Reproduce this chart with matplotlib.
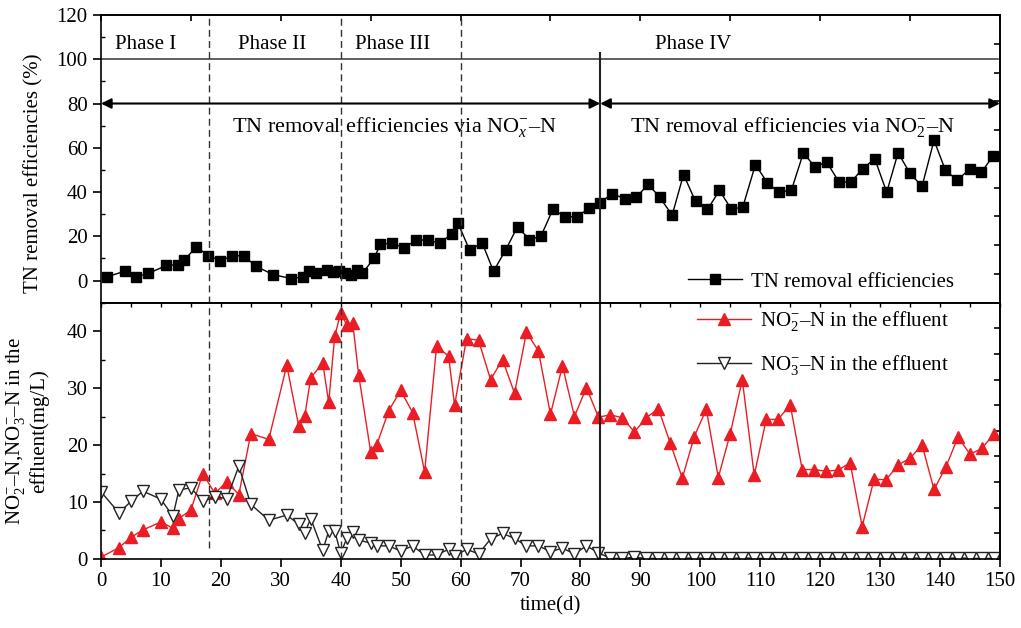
import matplotlib
matplotlib.use('Agg')
import matplotlib.pyplot as plt
import numpy as np

# 글꼴 설정 (Times 계열)
plt.rcParams['font.family'] = ['Liberation Serif', 'DejaVu Serif']
plt.rcParams['mathtext.fontset'] = 'custom'
plt.rcParams['mathtext.rm'] = 'Liberation Serif'
plt.rcParams['mathtext.it'] = 'Liberation Serif:italic'
plt.rcParams['font.size'] = 15

# ---- 데이터 ----
# TN 제거효율 (%)
tn_day = [1.0, 4.0, 5.9, 7.9, 10.9, 12.9, 13.9, 15.9, 17.9, 19.9, 21.9, 23.8, 25.8,
          28.7, 31.7, 33.7, 34.7, 35.8, 37.7, 38.7, 39.7, 40.7, 41.7, 42.7, 43.6,
          45.6, 46.6, 48.6, 50.6, 52.6, 54.6, 56.5, 58.5, 59.6, 61.5, 63.6, 65.5,
          67.5, 69.5, 71.5, 73.4, 75.4, 77.5, 79.4, 81.5, 83.3, 85.3, 87.4, 89.3,
          91.3, 93.2, 95.3, 97.2, 99.2, 101.2, 103.2, 105.2, 107.1, 109.2, 111.2,
          113.1, 115.2, 117.2, 119.1, 121.1, 123.1, 125.1, 127.1, 129.1, 131.1,
          133.0, 135.0, 137.0, 139.0, 140.9, 142.9, 145.0, 146.9, 148.9]
tn_eff = [1.7, 4.2, 1.7, 3.2, 6.8, 7.2, 9.2, 15.2, 11.3, 9.0, 11.0, 11.3, 6.5,
          2.7, 0.9, 1.7, 4.2, 3.2, 4.7, 3.8, 4.5, 3.5, 2.3, 4.7, 3.2,
          10.2, 16.3, 17.0, 14.6, 18.5, 18.1, 17.0, 20.9, 25.8, 13.7, 17.0, 4.2,
          13.7, 24.3, 18.5, 20.0, 32.1, 28.8, 28.8, 32.8, 35.2, 39.3, 36.9, 37.6,
          43.4, 37.8, 29.5, 47.9, 35.8, 32.1, 40.7, 32.1, 33.3, 52.4, 44.1,
          39.9, 40.8, 57.7, 51.4, 53.5, 44.7, 44.4, 50.5, 55.1, 39.9,
          57.7, 48.4, 42.6, 63.4, 49.8, 45.3, 50.6, 48.9, 56.5]

# 유출수 NO2-N, NO3-N (mg/L)
eff_day = [0, 3, 5, 7, 10, 12, 13, 15, 17, 19, 21, 23, 25, 28, 31, 33, 34, 35, 37,
           38, 39, 40, 41, 42, 43, 45, 46, 48, 50, 52, 54, 56, 58, 59] + list(range(61, 150, 2))
no2 = [0.3, 2.0, 3.8, 5.1, 6.5, 5.4, 7.1, 8.6, 15.0, 11.5, 13.6, 11.3, 22.0, 21.0,
       34.0, 23.3, 25.1, 31.8, 34.4, 27.5, 39.1, 43.2, 41.1, 41.5, 32.3, 18.8, 20.0,
       26.0, 29.6, 25.7, 15.3, 37.4, 35.6, 27.0,
       38.7, 38.4, 31.5, 35.0, 29.1, 39.8, 36.5, 25.4, 33.9, 25.0, 30.1, 24.9,
       25.3, 24.8, 22.3, 24.8, 26.4, 20.3, 14.2, 21.5, 26.3, 14.3, 22.0, 31.5,
       14.7, 24.5, 24.5, 27.1, 15.7, 15.7, 15.4, 15.6, 16.9, 5.7, 14.0, 13.9,
       16.5, 17.7, 20.0, 12.2, 16.2, 21.4, 18.4, 19.4, 22.0]
no3 = [11.8, 8.1, 10.1, 11.9, 10.5, 7.5, 12.1, 12.5, 10.1, 10.9, 10.6, 16.3, 9.6,
       6.8, 7.7, 6.1, 4.6, 7.1, 1.5, 4.9, 4.9, 1.0, 3.6, 4.8, 3.3, 2.8, 2.3, 2.3,
       1.4, 2.3, 0.7, 0.7, 1.7, 0.5,
       1.7, 0.9, 3.5, 4.5, 3.6, 2.3, 2.3, 1.3, 1.9, 0.9, 2.3, 1.1,
       0.1, 0.1, 0.3, 0.1, 0.1, 0.1, 0.1, 0.2, 0.1, 0.1, 0.1, 0.2, 0.1, 0.1,
       0.1, 0.1, 0.1, 0.1, 0.1, 0.1, 0.1, 0.1, 0.1, 0.1, 0.1, 0.2, 0.1, 0.1,
       0.1, 0.2, 0.1, 0.1, 0.1]

# 단계 구분 (일)
phase_dash = [18, 40, 60]
phase_solid = 83.3
phase_names = ['Phase I', 'Phase II', 'Phase III', 'Phase IV']
phase_text_x = [7.5, 28.5, 48.6, 98.8]

red = '#ea1d24'

fig = plt.figure(figsize=(10.21, 6.28), dpi=100)
ax1 = fig.add_axes([0.0989, 0.5181, 0.8805, 0.4580])
ax2 = fig.add_axes([0.0989, 0.1099, 0.8805, 0.4082])

# ---- 위쪽: TN 제거효율 ----
ax1.plot(tn_day, tn_eff, color='black', lw=1.0, marker='s', ms=7.5,
         label='TN removal efficiencies')
ax1.set_xlim(0, 150)
ax1.set_ylim(-10, 120)
ax1.set_yticks(np.arange(0, 121, 20))
ax1.set_yticks(np.arange(-10, 121, 10), minor=True)
ax1.tick_params(axis='y', which='major', direction='out', length=6, width=1.2)
ax1.tick_params(axis='y', which='minor', direction='in', length=3, width=1)
ax1.tick_params(axis='x', which='both', bottom=False, labelbottom=False)
ax1.set_ylabel('TN removal efficiencies (%)')
ax1.yaxis.set_label_coords(-0.064, 0.45)

top1 = ax1.secondary_xaxis('top')
top1.set_xticks(np.arange(0, 151, 15))
top1.tick_params(direction='in', length=4, width=1.2, labeltop=False)
right1 = ax1.secondary_yaxis('right')
right1.set_yticks(np.linspace(-10, 120, 11))
right1.tick_params(direction='in', length=4, width=1.2, labelright=False)

ax1.plot([0, 149.7], [100, 100], color='#444444', lw=1.2)
for d in phase_dash:
    ax1.axvline(d, color='#333333', lw=1.0, ls=(0, (5, 3)))
ax1.plot([phase_solid, phase_solid], [103, -10], color='#222222', lw=1.5, clip_on=False)

for name, xp in zip(phase_names, phase_text_x):
    ax1.text(xp, 106.5, name, ha='center', va='center')

arrow = dict(arrowstyle='<|-|>', color='black', lw=1.5, mutation_scale=15, shrinkA=0, shrinkB=0)
ax1.annotate('', xy=(0, 80), xytext=(phase_solid, 80), arrowprops=arrow)
ax1.annotate('', xy=(phase_solid, 80), xytext=(150, 80), arrowprops=arrow)
ax1.text(49, 69.5, r'TN removal efficiencies via NO$_x^{-}$–N', ha='center', va='center', fontsize=16)
ax1.text(115.3, 69.5, r'TN removal efficiencies via NO$_2^{-}$–N', ha='center', va='center', fontsize=16)

ax1.legend(loc='center left', bbox_to_anchor=(0.653, 0.072), frameon=False,
           borderpad=0, borderaxespad=0, handlelength=2.6, handletextpad=0.4,
           numpoints=1)

# ---- 아래쪽: 유출수 농도 ----
ax2.plot(eff_day, no2, color=red, lw=1.0, marker='^', ms=8.5, mec=red, mfc=red,
         label=r'NO$_2^{-}$–N in the effluent')
ax2.plot(eff_day, no3, color='#222222', lw=1.0, marker='v', ms=8, mec='#222222',
         mfc='white', mew=1.0, label=r'NO$_3^{-}$–N in the effluent')
ax2.set_xlim(0, 150)
ax2.set_ylim(0, 45)
ax2.set_xticks(np.arange(0, 151, 10))
ax2.set_yticks(np.arange(0, 41, 10))
ax2.set_yticks(np.arange(0, 46, 5), minor=True)
ax2.tick_params(axis='both', which='major', direction='out', length=6, width=1.2)
ax2.tick_params(axis='y', which='minor', direction='in', length=3, width=1)
ax2.tick_params(axis='x', which='minor', bottom=False)
ax2.set_xlabel('time(d)')
ax2.set_ylabel('NO$_2^{-}$–N,NO$_3^{-}$–N in the\neffluent(mg/L)', linespacing=1.1)
ax2.yaxis.set_label_coords(-0.058, 0.5)

top2 = ax2.secondary_xaxis('top')
top2.set_xticks(np.arange(0, 151, 5))
top2.tick_params(direction='in', length=3, width=1, labeltop=False)
right2 = ax2.secondary_yaxis('right')
right2.set_yticks(np.linspace(0, 45, 11))
right2.tick_params(direction='in', length=4, width=1.2, labelright=False)

ax2.axvline(phase_dash[0], ymin=1.9 / 45, ymax=1, color='#333333', lw=1.0, ls=(0, (5, 3)))
ax2.axvline(phase_dash[1], ymin=0, ymax=1, color='#333333', lw=1.0, ls=(0, (5, 3)))
ax2.axvline(phase_dash[2], ymin=0.3 / 45, ymax=1, color='#333333', lw=1.0, ls=(0, (5, 3)))
ax2.axvline(phase_solid, color='#222222', lw=1.5)

ax2.legend(loc='upper left', bbox_to_anchor=(0.663, 0.975), frameon=False,
           borderpad=0, borderaxespad=0, handlelength=2.6, handletextpad=0.4,
           labelspacing=0.95, numpoints=1)

for ax in [ax1, ax2, top1, top2, right1, right2]:
    for sp in ax.spines.values():
        sp.set_linewidth(1.2)

plt.savefig('out.png', dpi=100)
